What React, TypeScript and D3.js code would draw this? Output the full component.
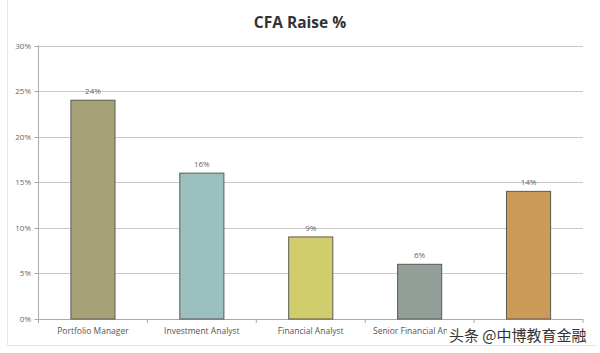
import React from "react";
import * as d3 from "d3";

const categories = ["Portfolio Manager", "Investment Analyst", "Financial Analyst", "Senior Financial Analyst", ""];
const values = [0.24, 0.16, 0.09, 0.06, 0.14];
const barColors = ["#a6a177", "#9cbfc0", "#d1cd6d", "#919f98", "#cb9b57"];
const yTicks = [0, 0.05, 0.1, 0.15, 0.2, 0.25, 0.3];
const title = "CFA Raise %";
const watermark = "头条 @中博教育金融";

export default function App() {
  const W = 600, H = 353;
  const left = 38.5, right = 583, top = 45.5, bottom = 319;
  const x = d3.scaleBand<string>().domain(categories.map((c, i) => String(i))).range([left, right]).padding(0);
  const y = d3.scaleLinear().domain([0, 0.3]).range([bottom, top]);
  const bw = x.bandwidth() * 0.405;
  const fmt = d3.format(".0%");
  const font = "'Open Sans', 'Liberation Sans', sans-serif";
  const boundaries = d3.range(categories.length + 1).map((i) => left + i * x.bandwidth());
  const wmX = 447;
  return (
    <svg width={W} height={H} style={{ position: "absolute", left: 0, top: 0, background: "#fff" }}>
      <defs>
        <clipPath id="lblclip">
          <rect x={0} y={0} width={wmX} height={H} />
        </clipPath>
      </defs>
      <rect x={0} y={0} width={W} height={H} fill="#fff" />
      <line x1={7.5} y1={0} x2={7.5} y2={345} stroke="#e6e6e6" />
      <line x1={7.5} y1={345.5} x2={597} y2={345.5} stroke="#e6e6e6" />
      <text x={300} y={28} textAnchor="middle" fontFamily={font} fontWeight="bold" fontSize={15.5} fill="#333">{title}</text>
      {yTicks.map((t) => (
        <g key={t}>
          {t > 0 && <line x1={left} x2={right} y1={Math.round(y(t)) + 0.5} y2={Math.round(y(t)) + 0.5} stroke="#c8c8c8" />}
          <line x1={left - 4} x2={left} y1={Math.round(y(t)) + 0.5} y2={Math.round(y(t)) + 0.5} stroke="#aaa" />
          <text x={31} y={y(t) + 3} textAnchor="end" fontFamily={font} fontSize={8} fill="#666">{fmt(t)}</text>
        </g>
      ))}
      <line x1={left} x2={left} y1={top} y2={bottom} stroke="#aaa" />
      <line x1={left} x2={right} y1={bottom + 0.5} y2={bottom + 0.5} stroke="#aaa" />
      {boundaries.map((b, i) => (
        <line key={i} x1={b} x2={b} y1={bottom} y2={bottom + 4} stroke="#aaa" />
      ))}
      {values.map((v, i) => {
        const cx = (x(String(i)) as number) + x.bandwidth() / 2;
        return (
          <g key={i}>
            <rect x={cx - bw / 2} y={y(v)} width={bw} height={bottom - y(v)} fill={barColors[i]} stroke="#5a5a52" strokeWidth={1} />
            <text x={cx} y={y(v) - 6} textAnchor="middle" fontFamily={font} fontSize={8} fill="#666">{fmt(v)}</text>
            <g clipPath="url(#lblclip)">
              <text x={cx} y={bottom + 15} textAnchor="middle" fontFamily={font} fontSize={8.5} fill="#555">{categories[i]}</text>
            </g>
          </g>
        );
      })}
      <text x={wmX + 2} y={341} fontFamily="'Noto Sans CJK SC', sans-serif" fontSize={15} fill="#333">{watermark}</text>
    </svg>
  );
}
